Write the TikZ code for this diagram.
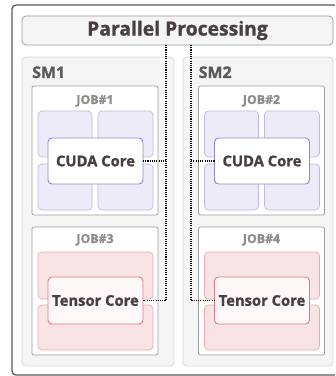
\documentclass[tikz,border=0pt]{standalone}
\usetikzlibrary{positioning}
\usepackage{xcolor}
\usepackage{fontspec}
\setmainfont{Open Sans}[BoldFeatures={FakeBold=1.2}]
\definecolor{frame}{HTML}{5A5A5A}
\definecolor{ink}{HTML}{473F40}
\definecolor{jobgray}{HTML}{8C8C8C}
\definecolor{lavfill}{HTML}{EDEBF7}
\definecolor{lavline}{HTML}{BEBAE4}
\definecolor{cudaline}{HTML}{8F8BCB}
\definecolor{pinkfill}{HTML}{F8E3E5}
\definecolor{pinkline}{HTML}{EBAAB3}
\definecolor{tensorline}{HTML}{E27A8B}
\definecolor{tensorfill}{HTML}{FFF8F9}
\def\px{0.03cm}

\begin{document}
\begin{tikzpicture}[x=\px, y=-\px, font=\bfseries]
    \tikzstyle{panel}=[rectangle, inner sep=0pt, outer sep=0pt, rounded corners=1.2mm]
    \tikzstyle{board}=[panel, draw=frame, fill=white, line width=1.1pt]
    \tikzstyle{banner}=[panel, draw=black!40, fill=black!4, line width=0.6pt, text=ink, font=\bfseries\fontsize{16.5}{19}\selectfont]
    \tikzstyle{sm}=[panel, draw=black!14, fill=black!4, line width=0.8pt]
    \tikzstyle{job}=[panel, draw=black!38, fill=white, line width=0.6pt, rounded corners=0.6mm]
    \tikzstyle{cuda cell}=[panel, draw=lavline, fill=lavfill, line width=0.6pt]
    \tikzstyle{tensor cell}=[panel, draw=pinkline, fill=pinkfill, line width=0.6pt]
    \tikzstyle{core}=[panel, line width=0.8pt, text=ink, font=\bfseries\fontsize{12.6}{15}\selectfont]
    \tikzstyle{cuda core}=[core, draw=cudaline, fill=white]
    \tikzstyle{tensor core}=[core, draw=tensorline, fill=tensorfill]
    \tikzstyle{sm label}=[inner sep=0pt, text=frame, font=\bfseries\fontsize{13.6}{16}\selectfont]
    \tikzstyle{job label}=[inner sep=0pt, text=jobgray, font=\bfseries\fontsize{10.5}{12}\selectfont]
    \tikzstyle{wire}=[densely dotted, line width=0.9pt, black]

    \useasboundingbox (0,0) rectangle (335,376);
    \clip (0,0) rectangle (335,376);

    \node[board, minimum width=340*\px, minimum height=370*\px] (board) at (182,190) {};
    \node[banner, minimum width=311*\px, minimum height=29*\px] (title) at (177.5,30.5) {Parallel Processing};

    \node[sm, minimum width=152*\px, minimum height=309*\px] (sm1) at (98,211.5) {};
    \node[sm, minimum width=150*\px, minimum height=309*\px] (sm2) at (258,211.5) {};

    \foreach \s/\n/\a/\b in {0/1/1/3, 166.5/2/2/4} {
        \node[sm label, anchor=base west] (smlabel\n) at (32+\s,78) {SM\n};
        % upper job: cuda cores
        \node[job, minimum width=126*\px, minimum height=129*\px] (job\a) at (95+\s,150.5) {};
        \node[job label, anchor=base] (joblabel\a) at (95+\s,104) {JOB\#\a};
        \node[cuda cell, minimum width=54*\px, minimum height=46*\px] (cell\a a) at (65+\s,134) {};
        \node[cuda cell, minimum width=55*\px, minimum height=46*\px] (cell\a b) at (125.5+\s,134) {};
        \node[cuda cell, minimum width=54*\px, minimum height=46*\px] (cell\a c) at (65+\s,187) {};
        \node[cuda cell, minimum width=55*\px, minimum height=46*\px] (cell\a d) at (125.5+\s,187) {};
        \node[cuda core, minimum width=95*\px, minimum height=46*\px] (cuda\n) at (95.5+\s,161) {CUDA Core};
        % lower job: tensor cores
        \node[job, minimum width=126*\px, minimum height=128*\px] (job\b) at (95+\s,291) {};
        \node[job label, anchor=base] (joblabel\b) at (95+\s,243) {JOB\#\b};
        \node[tensor cell, minimum width=115*\px, minimum height=47*\px] (cell\b a) at (95.5+\s,275.5) {};
        \node[tensor cell, minimum width=115*\px, minimum height=45*\px] (cell\b b) at (95.5+\s,327.5) {};
        \node[tensor core, minimum width=95*\px, minimum height=47*\px] (tensor\n) at (95.5+\s,300.5) {Tensor Core};
    }

    \coordinate (bus1) at (166,0);
    \coordinate (bus2) at (191,0);
    \draw[wire] (title.south -| bus1) |- (tensor1.east);
    \draw[wire] (cuda1.east) -- (cuda1.east -| bus1);
    \draw[wire] (title.south -| bus2) |- (tensor2.west);
    \draw[wire] (cuda2.west) -- (cuda2.west -| bus2);
\end{tikzpicture}
\end{document}
